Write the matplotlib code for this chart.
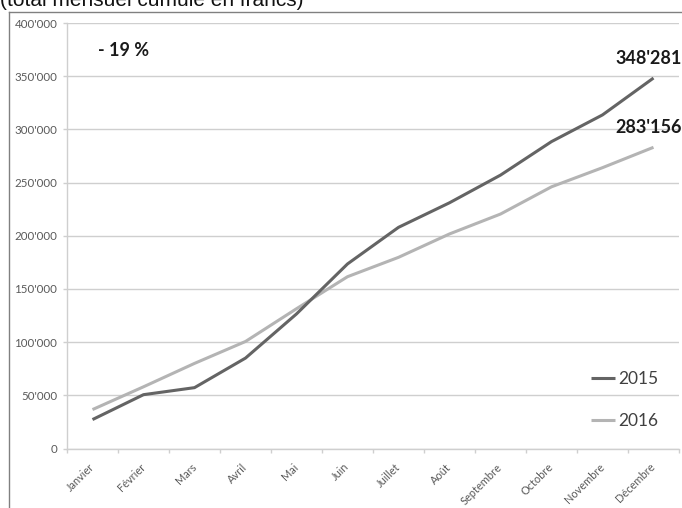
import matplotlib.pyplot as plt
from matplotlib.lines import Line2D

# cumulative monthly totals (francs)
MONTHS = ["Janvier", "Février", "Mars", "Avril", "Mai", "Juin", "Juillet",
          "Août", "Septembre", "Octobre", "Novembre", "Décembre"]
Y2015 = [27200, 50600, 57200, 85000, 126500, 173500, 207900, 231000,
         257000, 288500, 313600, 348281]
Y2016 = [36600, 58000, 80000, 100600, 131400, 161500, 179700, 201700,
         220400, 246000, 264000, 283156]
YTICKS = [0, 50000, 100000, 150000, 200000, 250000, 300000, 350000, 400000]
YTICK_LABELS = ["0", "50'000", "100'000", "150'000", "200'000", "250'000",
                "300'000", "350'000", "400'000"]
END_LABELS = ["348'281", "283'156"]
DELTA = "- 19 %"

C2015 = "#646464"
C2016 = "#b4b4b4"
GRID = "#cfcfcf"
LABEL = "#595959"

fig = plt.figure(figsize=(6.82, 5.08), dpi=100)
ax = fig.add_axes([67 / 682, 1 - 448.5 / 508, 612 / 682, 425.5 / 508])

x = list(range(len(MONTHS)))
ax.plot(x, Y2015, color=C2015, lw=2.2, solid_capstyle="butt", label="2015", zorder=3)
ax.plot(x, Y2016, color=C2016, lw=2.2, solid_capstyle="butt", label="2016", zorder=2)

ax.set_xlim(-0.5, len(MONTHS) - 0.5)
ax.set_ylim(0, 400000)
ax.set_yticks(YTICKS)
ax.set_yticklabels(YTICK_LABELS, family="Lato", fontsize=8.3, color=LABEL)
ax.set_xticks(x)
ax.set_xticklabels(MONTHS, family="Lato", fontsize=7.9, color=LABEL,
                   rotation=45, ha="right", va="center", rotation_mode="anchor")
ax.set_xticks([i - 0.5 for i in range(len(MONTHS) + 1)], minor=True)
ax.tick_params(axis="x", which="major", length=0, pad=12)
ax.tick_params(axis="x", which="minor", length=3, color=GRID, width=1)
ax.tick_params(axis="y", length=3, color=GRID, width=1, pad=4)

ax.grid(axis="y", color=GRID, lw=1)
ax.set_axisbelow(True)
for side in ["top", "right"]:
    ax.spines[side].set_visible(False)
for side in ["left", "bottom"]:
    ax.spines[side].set_color(GRID)
    ax.spines[side].set_linewidth(1)

# annotations
fig.text(98 / 682, 1 - 51 / 508, DELTA, family="Lato", fontweight="bold",
         fontsize=13, color="#1a1a1a", ha="left", va="center")
fig.text(682 / 682, 1 - 59 / 508, END_LABELS[0], family="Lato",
         fontweight="bold", fontsize=13, color="#1a1a1a", ha="right", va="center")
fig.text(682 / 682, 1 - 127.5 / 508, END_LABELS[1], family="Lato",
         fontweight="bold", fontsize=13, color="#1a1a1a", ha="right", va="center")

ax.legend(loc="center left", bbox_to_anchor=(591 / 682, 1 - 400 / 508),
          bbox_transform=fig.transFigure, frameon=False,
          prop={"family": "Lato", "size": 12.5}, labelcolor="#404040",
          handlelength=1.4, handletextpad=0.15, labelspacing=1.45,
          borderpad=0, borderaxespad=0)

# cropped title and outer chart frame
fig.text(0.0, 1 - 6.5 / 508, "(total mensuel cumulé en francs)",
         family="Liberation Sans", fontsize=15, color="#111111",
         ha="left", va="baseline")
fig.add_artist(Line2D([8.5 / 682, 8.5 / 682], [0, 1 - 11.5 / 508],
                      transform=fig.transFigure, color="#808080", lw=1))
fig.add_artist(Line2D([8.5 / 682, 1], [1 - 11.5 / 508, 1 - 11.5 / 508],
                      transform=fig.transFigure, color="#808080", lw=1))

fig.savefig("out.png", dpi=100)
